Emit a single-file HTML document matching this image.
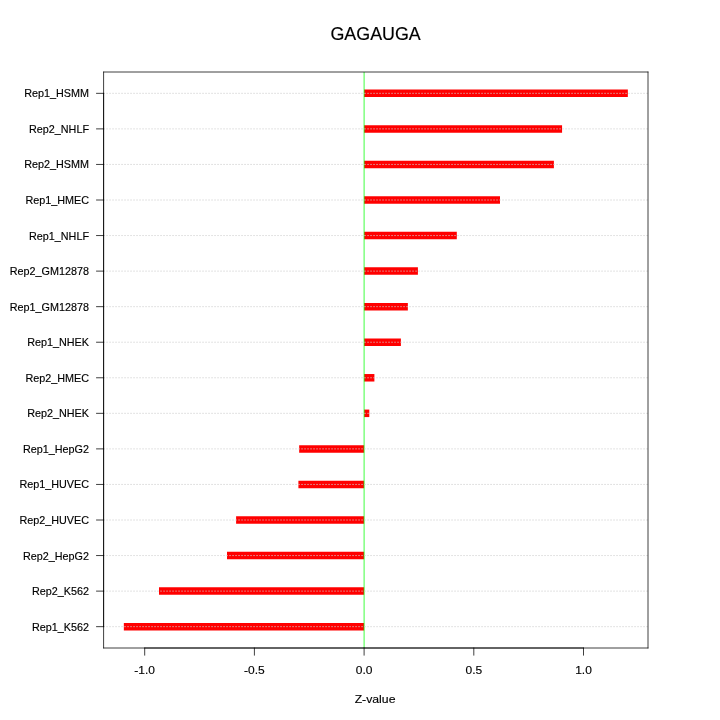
<!DOCTYPE html>
<html lang="en">
<head>
<meta charset="utf-8">
<title>GAGAUGA</title>
<style>
html,body{margin:0;padding:0;background:#fff;}
body{width:720px;height:720px;overflow:hidden;}
svg{display:block;}
text{font-family:"Liberation Sans",sans-serif;fill:#000;stroke:#000;stroke-width:0.15px;}
.ax{font-size:10.8px;}
.xt{font-size:12.0px;}
.xl{font-size:12.0px;}
.ttl{font-size:18.0px;}
</style>
</head>
<body>
<svg width="720" height="720" viewBox="0 0 720 720">
<rect x="0" y="0" width="720" height="720" fill="#ffffff"/>
<g stroke="#ff0000" stroke-width="7.5" stroke-linecap="butt">
<line x1="364.1" y1="93.33" x2="627.84" y2="93.33"/>
<line x1="364.1" y1="128.89" x2="562.07" y2="128.89"/>
<line x1="364.1" y1="164.44" x2="553.9" y2="164.44"/>
<line x1="364.1" y1="200" x2="500" y2="200"/>
<line x1="364.1" y1="235.56" x2="456.8" y2="235.56"/>
<line x1="364.1" y1="271.11" x2="417.9" y2="271.11"/>
<line x1="364.1" y1="306.67" x2="407.85" y2="306.67"/>
<line x1="364.1" y1="342.22" x2="400.9" y2="342.22"/>
<line x1="364.1" y1="377.78" x2="374.4" y2="377.78"/>
<line x1="364.1" y1="413.33" x2="369.3" y2="413.33"/>
<line x1="364.1" y1="448.89" x2="299.17" y2="448.89"/>
<line x1="364.1" y1="484.44" x2="298.4" y2="484.44"/>
<line x1="364.1" y1="520" x2="236.1" y2="520"/>
<line x1="364.1" y1="555.56" x2="227" y2="555.56"/>
<line x1="364.1" y1="591.11" x2="159" y2="591.11"/>
<line x1="364.1" y1="626.67" x2="123.84" y2="626.67"/>
</g>
<line x1="364.1" y1="72" x2="364.1" y2="648" stroke="#00ff00" stroke-width="0.75"/>
<g stroke="#cdcdcd" stroke-width="0.75" stroke-dasharray="0.75 2.25" stroke-linecap="round">
<line x1="103.68" y1="93.33" x2="648" y2="93.33"/>
<line x1="103.68" y1="128.89" x2="648" y2="128.89"/>
<line x1="103.68" y1="164.44" x2="648" y2="164.44"/>
<line x1="103.68" y1="200" x2="648" y2="200"/>
<line x1="103.68" y1="235.56" x2="648" y2="235.56"/>
<line x1="103.68" y1="271.11" x2="648" y2="271.11"/>
<line x1="103.68" y1="306.67" x2="648" y2="306.67"/>
<line x1="103.68" y1="342.22" x2="648" y2="342.22"/>
<line x1="103.68" y1="377.78" x2="648" y2="377.78"/>
<line x1="103.68" y1="413.33" x2="648" y2="413.33"/>
<line x1="103.68" y1="448.89" x2="648" y2="448.89"/>
<line x1="103.68" y1="484.44" x2="648" y2="484.44"/>
<line x1="103.68" y1="520" x2="648" y2="520"/>
<line x1="103.68" y1="555.56" x2="648" y2="555.56"/>
<line x1="103.68" y1="591.11" x2="648" y2="591.11"/>
<line x1="103.68" y1="626.67" x2="648" y2="626.67"/>
</g>
<g stroke="#000000" stroke-width="0.75" fill="none" stroke-linecap="round">
<line x1="103.68" y1="72" x2="648" y2="72"/>
<line x1="648" y1="72" x2="648" y2="648"/>
<line x1="648" y1="648" x2="103.68" y2="648"/>
<line x1="103.6" y1="648" x2="103.6" y2="72"/>
<line x1="103.6" y1="93.33" x2="103.6" y2="626.67"/>
<line x1="96.48" y1="93.33" x2="103.68" y2="93.33"/>
<line x1="96.48" y1="128.89" x2="103.68" y2="128.89"/>
<line x1="96.48" y1="164.44" x2="103.68" y2="164.44"/>
<line x1="96.48" y1="200" x2="103.68" y2="200"/>
<line x1="96.48" y1="235.56" x2="103.68" y2="235.56"/>
<line x1="96.48" y1="271.11" x2="103.68" y2="271.11"/>
<line x1="96.48" y1="306.67" x2="103.68" y2="306.67"/>
<line x1="96.48" y1="342.22" x2="103.68" y2="342.22"/>
<line x1="96.48" y1="377.78" x2="103.68" y2="377.78"/>
<line x1="96.48" y1="413.33" x2="103.68" y2="413.33"/>
<line x1="96.48" y1="448.89" x2="103.68" y2="448.89"/>
<line x1="96.48" y1="484.44" x2="103.68" y2="484.44"/>
<line x1="96.48" y1="520" x2="103.68" y2="520"/>
<line x1="96.48" y1="555.56" x2="103.68" y2="555.56"/>
<line x1="96.48" y1="591.11" x2="103.68" y2="591.11"/>
<line x1="96.48" y1="626.67" x2="103.68" y2="626.67"/>
<line x1="144.7" y1="648" x2="583.5" y2="648"/>
<line x1="144.7" y1="648" x2="144.7" y2="655.2"/>
<line x1="254.4" y1="648" x2="254.4" y2="655.2"/>
<line x1="364.1" y1="648" x2="364.1" y2="655.2"/>
<line x1="473.8" y1="648" x2="473.8" y2="655.2"/>
<line x1="583.5" y1="648" x2="583.5" y2="655.2"/>
</g>
<g class="ax" text-anchor="end">
<text transform="translate(89,97) scale(1.0,1.07)">Rep1_HSMM</text>
<text transform="translate(89,133) scale(1.0,1.07)">Rep2_NHLF</text>
<text transform="translate(89,168) scale(1.0,1.07)">Rep2_HSMM</text>
<text transform="translate(89,204) scale(1.0,1.07)">Rep1_HMEC</text>
<text transform="translate(89,240) scale(1.0,1.07)">Rep1_NHLF</text>
<text transform="translate(89,275) scale(1.0,1.07)">Rep2_GM12878</text>
<text transform="translate(89,311) scale(1.0,1.07)">Rep1_GM12878</text>
<text transform="translate(89,346) scale(1.0,1.07)">Rep1_NHEK</text>
<text transform="translate(89,382) scale(1.0,1.07)">Rep2_HMEC</text>
<text transform="translate(89,417) scale(1.0,1.07)">Rep2_NHEK</text>
<text transform="translate(89,453) scale(1.0,1.07)">Rep1_HepG2</text>
<text transform="translate(89,488) scale(1.0,1.07)">Rep1_HUVEC</text>
<text transform="translate(89,524) scale(1.0,1.07)">Rep2_HUVEC</text>
<text transform="translate(89,560) scale(1.0,1.07)">Rep2_HepG2</text>
<text transform="translate(89,595) scale(1.0,1.07)">Rep2_K562</text>
<text transform="translate(89,631) scale(1.0,1.07)">Rep1_K562</text>
</g>
<g class="xt" text-anchor="middle">
<text transform="translate(144.7,674) scale(1.0,0.97)">-1.0</text>
<text transform="translate(254.4,674) scale(1.0,0.97)">-0.5</text>
<text transform="translate(364.1,674) scale(1.0,0.97)">0.0</text>
<text transform="translate(473.8,674) scale(1.0,0.97)">0.5</text>
<text transform="translate(583.5,674) scale(1.0,0.97)">1.0</text>
</g>
<text class="xl" text-anchor="middle" transform="translate(375.05,703) scale(1.022,0.97)">Z-value</text>
<text class="ttl" text-anchor="middle" transform="translate(375.6,40) scale(0.993,1.04)">GAGAUGA</text>
</svg>
</body>
</html>
